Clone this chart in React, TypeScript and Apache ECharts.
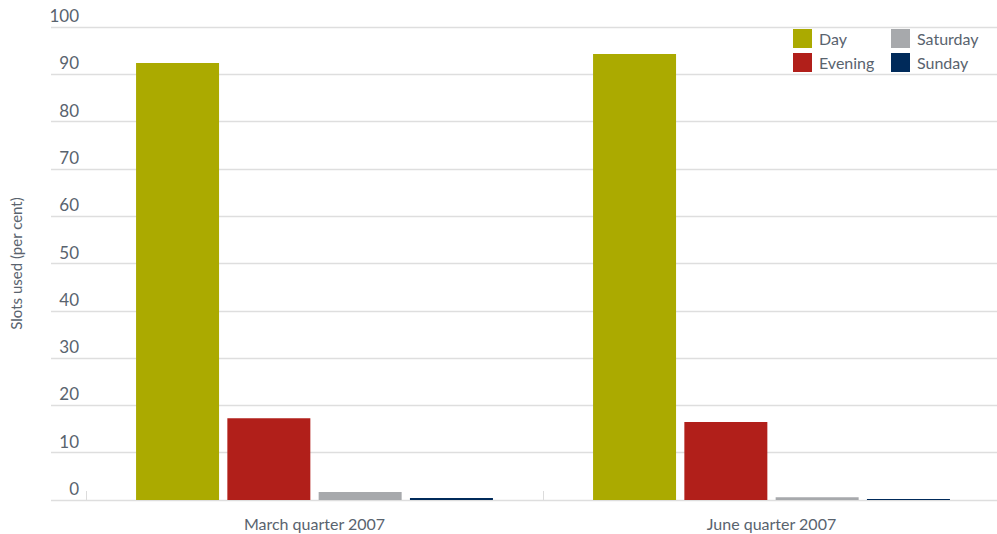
import React, { useEffect, useRef } from "react";
import * as echarts from "echarts";

const categories = ["March quarter 2007", "June quarter 2007"];
const seriesNames = ["Day", "Evening", "Saturday", "Sunday"];
const dayValues = [92.4, 94.3];
const eveningValues = [17.3, 16.5];
const saturdayValues = [1.7, 0.6];
const sundayValues = [0.4, 0.2];
const seriesColors = ["#abaa00", "#b11f1a", "#a7a9ac", "#002a5a"];

const textColor = "#59636e";
const fontFamily = "Lato, 'Open Sans', sans-serif";

export default function App() {
  const ref = useRef<HTMLDivElement>(null);

  useEffect(() => {
    document.body.style.margin = "0";
    if (!ref.current) return;
    const chart = echarts.init(ref.current, undefined, { renderer: "svg" });
    const values = [dayValues, eveningValues, saturdayValues, sundayValues];

    const legendBase = {
      orient: "vertical",
      top: 29,
      padding: 0,
      itemWidth: 19,
      itemHeight: 19,
      itemGap: 5,
      icon: "rect",
      textStyle: { fontSize: 16, color: textColor, padding: [0, 0, 0, 2] },
    };

    chart.setOption({
      animation: false,
      textStyle: { fontFamily, color: textColor },
      legend: [
        { ...legendBase, data: seriesNames.slice(0, 2), left: 793 },
        { ...legendBase, data: seriesNames.slice(2), left: 891 },
      ],
      grid: [
        { left: 44, right: 0, top: 27, bottom: 34 },
        { left: 86, width: 914, top: 27, bottom: 34, outerBoundsMode: "none" },
      ],
      xAxis: [
        { gridIndex: 0, type: "value", show: false, min: 0, max: 1 },
        {
          gridIndex: 1,
          type: "category",
          data: categories,
          axisLine: { show: false },
          axisTick: {
            show: true,
            inside: true,
            length: 9,
            lineStyle: { color: "#dcdcdc", width: 1 },
          },
          axisLabel: { fontSize: 16, color: textColor, margin: 15 },
        },
      ],
      yAxis: [
        {
          gridIndex: 0,
          type: "value",
          min: 0,
          max: 100,
          interval: 10,
          name: "Slots used (per cent)",
          nameLocation: "middle",
          nameGap: 28,
          nameTextStyle: { fontSize: 15, color: textColor },
          axisLine: { show: false },
          axisTick: { show: false },
          splitLine: { show: true, lineStyle: { color: "#dedede", width: 1.3 } },
          axisLabel: {
            inside: true,
            align: "right",
            verticalAlign: "bottom",
            margin: 28,
            fontSize: 17,
            color: textColor,
            padding: [0, 0, 3, 0],
          },
        },
        {
          gridIndex: 1,
          type: "value",
          min: 0,
          max: 100,
          interval: 10,
          show: false,
          splitLine: { show: false },
        },
      ],
      series: seriesNames.map((name, i) => ({
        name,
        type: "bar",
        xAxisIndex: 1,
        yAxisIndex: 1,
        data: values[i],
        barWidth: 83,
        barGap: "10%",
        itemStyle: { color: seriesColors[i] },
      })),
    });

    return () => chart.dispose();
  }, []);

  return <div ref={ref} style={{ width: 997, height: 534 }} />;
}
